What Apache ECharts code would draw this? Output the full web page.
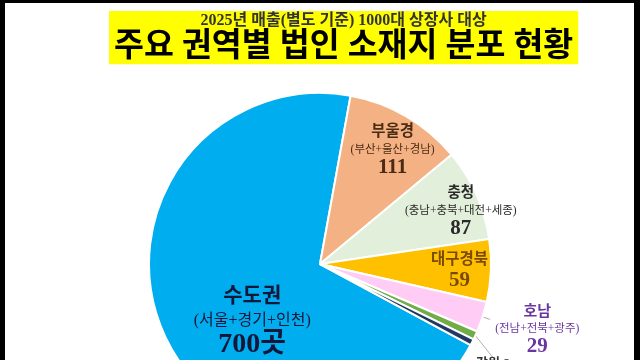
<!DOCTYPE html>
<html>
<head>
<meta charset="utf-8">
<script src="https://cdn.jsdelivr.net/npm/echarts@6/dist/echarts.min.js"></script>
<style>
  html, body { margin: 0; padding: 0; background: #fff; }
  #main { width: 640px; height: 360px; }
</style>
</head>
<body>
<div id="main"></div>
<script>
// data (1000 companies in total)
const regions = ['수도권', '부울경', '충청', '대구경북', '호남', '강원', '제주'];
const regionDetails = ['서울+경기+인천', '부산+울산+경남', '충남+충북+대전+세종', '', '전남+전북+광주', '', ''];
const companyCounts = [700, 111, 87, 59, 29, 8, 6];
const titleLines = ['2025년 매출(별도 기준) 1000대 상장사 대상', '주요 권역별 법인 소재지 분포 현황'];

const sliceColors = ['#00adef', '#f4b183', '#e2efda', '#ffc000', '#ffccf6', '#70ad47', '#1f3864'];
const labelColors = ['#14173a', '#4a2c14', '#2a2a2a', '#7a4a00', '#6a35a0', '#333333', '#333333'];
// font sizes [name, detail, value] and line height of each label
const labelSizes = [[21, 16, 28, 24], [15.5, 11.5, 21, 18], [14.5, 11.5, 21, 18], [15.5, 11.5, 21, 21], [15, 11.5, 21, 17], [13, 10, 13, 16], [13, 10, 13, 16]];
// shift of each label from where echarts puts it
const labelShift = [[12, 18], [28, -38], [60, -17], [51, 3], [0, 10], null, null];

const font = "'Liberation Serif', 'Noto Sans CJK KR', serif";

function richFor(i) {
  const c = labelColors[i];
  const z = labelSizes[i];
  return {
    n: { fontFamily: font, fontWeight: 'bold', fontSize: z[0], color: c, lineHeight: z[3], align: 'center' },
    s: { fontFamily: font, fontSize: z[1], color: c, lineHeight: z[3], align: 'center' },
    v: { fontFamily: font, fontWeight: 'bold', fontSize: z[2], color: c, lineHeight: z[3], align: 'center' }
  };
}

const pieData = regions.map((name, i) => {
  const inside = i < 4;
  return {
    name: name,
    value: companyCounts[i],
    itemStyle: { color: sliceColors[i] },
    label: {
      show: i < 6,
      position: inside ? 'inside' : 'outside',
      rich: richFor(i)
    },
    labelLine: { show: !inside, length: 8, length2: 0, lineStyle: { color: '#b0b0b0', width: 1 } }
  };
});

const chart = echarts.init(document.getElementById('main'));

const option = {
  backgroundColor: '#fff',
  animation: false,
  title: {
    left: 109,
    top: 10,
    backgroundColor: '#ffff00',
    padding: [2, 5, 0, 5],
    text: '{a|' + titleLines[0] + '}\n{b|' + titleLines[1] + '}',
    textStyle: {
      rich: {
        a: { fontFamily: font, fontWeight: 'bold', fontSize: 16, color: '#333', lineHeight: 18, align: 'center' },
        b: { fontFamily: font, fontWeight: 'bold', fontSize: 32.5, color: '#000', lineHeight: 36, align: 'center' }
      }
    }
  },
  series: [{
    type: 'pie',
    center: [320, 264],
    radius: 171,
    startAngle: -28.3,
    avoidLabelOverlap: false,
    silent: true,
    itemStyle: { borderColor: '#fff', borderWidth: 2 },
    label: {
      formatter: function (p) {
        const i = p.dataIndex;
        let txt = '{n|' + p.name + '}';
        if (regionDetails[i]) txt += '\n{s|(' + regionDetails[i] + ')}';
        if (i < 5) txt += '\n{v|' + p.value + (i === 0 ? '곳' : '') + '}';
        else txt += '{v| ' + p.value + '}';
        return txt;
      }
    },
    labelLayout: function (p) {
      const i = p.dataIndex;
      if (i === 5) return { x: 476, y: 356, align: 'left', verticalAlign: 'top' };
      const s = labelShift[i];
      return s ? { dx: s[0], dy: s[1] } : {};
    },
    data: pieData
  }],
  graphic: [
    { type: 'rect', z: 100, shape: { x: 0, y: 0, width: 5, height: 360 }, style: { fill: '#000' } },
    { type: 'rect', z: 100, shape: { x: 0, y: 0, width: 640, height: 3 }, style: { fill: '#000' } },
    { type: 'rect', z: 100, shape: { x: 634, y: 0, width: 6, height: 360 }, style: { fill: '#000' } }
  ]
};

chart.setOption(option);
</script>
</body>
</html>
